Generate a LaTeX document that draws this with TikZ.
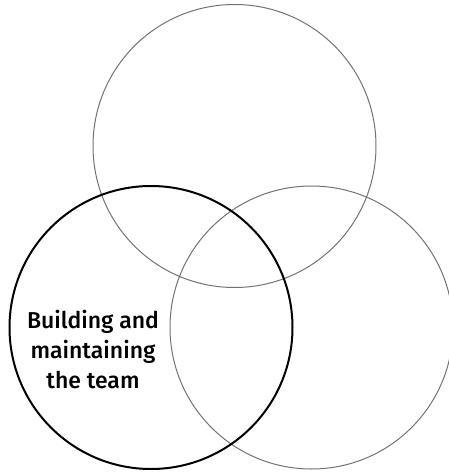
\documentclass[tikz,border=0pt]{standalone}
\usepackage{fontspec}
\setmainfont{Fira Sans}[BoldFont={Fira Sans Medium}]
\begin{document}
\begin{tikzpicture}[x=1pt,y=-1pt,
  thincirc/.style={circle,draw=black!55,line width=1pt,minimum size=283pt,inner sep=0pt},
  boldcirc/.style={circle,draw=black,line width=2pt,minimum size=283pt,inner sep=0pt},
  label/.style={align=center,font=\fontsize{23}{30.3}\selectfont\bfseries,text=black}]
\useasboundingbox (0,0) rectangle (449,472);
\clip (0,0) rectangle (449,472);
\node[thincirc] (top) at (234.5,146) {};
\node[thincirc] (right) at (311.5,327.5) {};
\node[boldcirc] (left) at (151,327.5) {};
\node[label] (txt) at (93,349.5) {Building and\\maintaining\\the team};
\end{tikzpicture}
\end{document}
